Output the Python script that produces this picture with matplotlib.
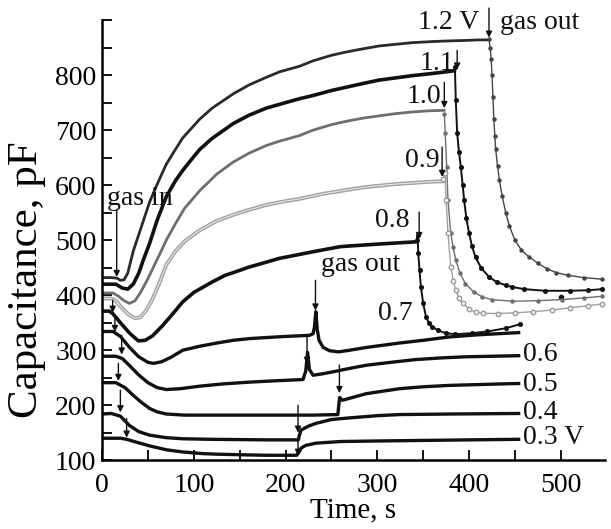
import matplotlib
matplotlib.use("Agg")
import matplotlib.pyplot as plt
from matplotlib.ticker import MultipleLocator

plt.rcParams['font.family'] = ['Liberation Serif', 'DejaVu Serif']

# ---------------- data (time s, capacitance pF) ----------------
t12 = [0, 10, 16, 20, 24, 28, 34, 42, 52, 61, 70, 80, 88, 100, 106.5, 120, 143, 160, 179, 193.5, 215, 230, 250, 266, 285, 302, 320, 338, 360, 375, 395, 411, 421]
c12 = [432, 432, 431, 427, 428, 440, 480, 520, 570, 605, 638, 665, 686, 708, 720, 740, 766, 782, 796, 806, 816, 826, 836, 842, 848, 853, 856, 859, 861, 862, 863, 864, 864]
t12d = [421.7, 423, 424, 425, 426, 427, 428, 429, 431, 433, 436, 440, 444, 450, 457, 465, 475, 485, 495, 508, 525, 545]
c12d = [865, 850, 830, 800, 760, 720, 690, 665, 635, 610, 580, 550, 525, 500, 482, 470, 458, 448, 441, 436, 432, 429]

t11 = [0, 15, 22, 28, 34, 40, 45, 52, 60, 70, 80, 88, 100, 106.5, 120, 143, 160, 179, 200, 215, 230, 250, 266, 285, 302, 320, 338, 360, 375, 384]
c11 = [420, 420, 413, 411, 420, 440, 464, 495, 536, 579, 608, 627, 652, 665, 685, 712, 727, 740, 750, 757, 763, 772, 778, 785, 791, 795, 799, 803, 806, 808]
t11d = [384.5, 385.5, 387, 389, 391, 393, 394.6, 397, 400, 403, 407, 413, 421.7, 430, 440, 447, 460, 483, 510, 530, 545]
c11d = [815, 755, 695, 660, 633, 600, 573, 540, 513, 490, 469, 450, 433, 424, 418, 415, 411, 408, 408, 409, 411]
t11_dot = [500]
c11_dot = [397]

t10 = [0, 12, 18, 24, 30, 36, 42, 50, 58, 65, 70, 80, 90, 106.5, 125, 143, 160, 179, 193.5, 215, 230, 250, 266, 285, 302, 320, 338, 355, 372.8]
c10 = [404, 404, 398, 390, 385, 390, 405, 430, 458, 482, 500, 530, 558, 590, 620, 642, 658, 672, 680, 690, 700, 710, 716, 722, 726, 730, 733, 735, 736]
t10d = [373, 374, 375.6, 377, 380, 382.5, 385.5, 390, 396, 405, 414, 425, 447, 475, 501, 525, 545]
c10d = [730, 695, 633, 573, 513, 488, 464, 440, 421, 406, 397, 392, 389, 390, 392, 395, 398]

t09 = [0, 10, 15, 20, 28, 36, 42, 48, 55, 62, 70, 80, 90, 106.5, 125, 143, 160, 179, 200, 215, 240, 266, 285, 302, 320, 338, 355, 371]
c09 = [394, 394, 390, 380, 366, 358, 360, 372, 393, 420, 455, 480, 498, 518, 535, 546, 555, 564, 571, 575, 584, 591, 596, 599, 602, 604, 606, 607]
t09d = [372, 373.5, 375, 377, 380, 383, 385.5, 389, 393, 400, 407, 415, 432, 450, 470, 490, 510, 530, 545]
c09d = [612, 622, 573, 513, 452, 425, 409, 395, 385, 375, 369, 367, 366.7, 368, 370, 373, 377, 381, 384]

t08 = [0, 8, 12, 20, 30, 39.5, 47, 55, 65, 75, 88, 100, 120, 134, 143, 160, 179, 193.5, 215, 230, 259, 266, 302, 342]
c08 = [371, 371, 366, 350, 331, 317, 318, 326, 343, 362, 388, 405, 424, 436, 441, 451, 460, 467, 474, 479, 488, 489, 493, 497]
t08d = [343, 344, 344.6, 346, 347.5, 350, 353, 356, 360, 366, 374.6, 385, 403, 420, 440, 455]
c08d = [500, 509, 476, 445, 415, 385, 361, 350, 343, 336, 331, 329, 331, 334, 340, 347]

t07 = [0, 12, 20, 30, 40, 50, 56, 65, 75, 88, 106, 125, 143, 160, 179, 200, 226, 230, 231.5, 233, 234.5, 236.5, 241, 248, 258, 270, 288, 324, 350, 378, 410, 454]
c07 = [334, 334, 325, 305, 288, 278, 276, 279, 287, 300, 307, 313, 318, 321, 323, 325, 327, 330, 342, 370, 338, 318, 305, 299, 297, 300, 305, 313, 318, 324, 328, 332]

t06 = [0, 15, 22, 30, 40, 50, 60, 70, 85, 106, 130, 161, 190, 219, 222, 224, 226, 230, 240, 251, 270, 288, 315, 342, 370, 396, 425, 454]
c06 = [289, 289, 285, 272, 255, 241, 232, 228.5, 230, 234.5, 238.5, 242, 244.5, 246.7, 262, 296, 265, 254.5, 257, 260.5, 267, 272.7, 278, 283, 286, 288, 289, 290]

t05 = [0, 15, 25, 34, 43, 52, 60, 70, 90, 120, 150, 200, 230, 257, 258, 259, 262, 275, 288, 324, 350, 378, 420, 454]
c05 = [241, 241, 232, 218, 205, 194, 188, 184, 182, 182, 182, 182, 182, 183, 200, 214, 209, 215, 221, 230, 233.5, 236, 238, 239.5]

t04 = [0, 10, 20, 30, 40, 52, 70, 88, 120, 150, 180, 214, 215, 217, 225, 233, 250, 270, 300, 324, 380, 454]
c04 = [184, 185, 180, 163, 152, 145.5, 141, 139, 138, 137.5, 137, 137, 145, 155, 162, 167, 174, 177, 181, 183, 184, 185]

t03 = [0, 20, 27, 35, 52, 70, 88, 110, 125, 150, 180, 212, 214, 217, 222, 233, 260, 300, 350, 400, 454]
c03 = [140, 140, 138, 134, 126, 119, 115, 112, 111, 110, 109, 109, 113, 122, 127, 131, 134, 135, 136, 137, 138]

# text labels: (text, t, C, ha)
labels = [("1.2 V", 411, 895, "right"), ("gas out", 434, 895, "left"),
          ("1.1", 383.7, 822, "right"), ("1.0", 369.6, 762, "right"),
          ("0.9", 367.4, 645, "right"), ("0.8", 334.8, 536, "right"),
          ("gas out", 239, 455, "left"), ("0.7", 339, 367, "right"),
          ("gas in", 5.4, 576, "left"),
          ("0.6", 459, 292, "left"), ("0.5", 459, 237, "left"),
          ("0.4", 459, 187, "left"), ("0.3 V", 459, 142, "left")]

# arrows: (t, C_tail, C_tip)
arrows = [(421.7, 922, 868), (387, 845, 810), (373, 787, 740), (370.6, 669, 615),
          (345.6, 551, 502), (232.6, 427, 372), (223.4, 324, 275), (258.7, 273, 222),
          (213.6, 200, 150), (213.6, 135, 108),
          (16, 555, 433), (11.6, 391, 368), (14, 361, 333), (21.4, 327, 292),
          (17.8, 276, 244), (20, 227, 187), (26.8, 176, 141)]

# ---------------- figure ----------------
fig = plt.figure(figsize=(6.11, 5.29), dpi=100)
ax = fig.add_axes([0.167, 0.130, 0.823, 0.832])

black = "#111111"
ax.plot(t12, c12, color="#2a2a2a", lw=2.0)
ax.plot(t12d, c12d, color="#444444", lw=1.0, marker="o", ms=2.2)
ax.plot(t11, c11, color=black, lw=2.6)
ax.plot(t11d, c11d, color=black, lw=1.4, marker="o", ms=2.6)
ax.plot(t11_dot, c11_dot, "o", color=black, ms=3)
ax.plot(t10, c10, color="#6e6e6e", lw=2.0)
ax.plot(t10d, c10d, color="#6e6e6e", lw=1.0, marker="o", ms=2.2)
ax.plot(t09, c09, color="#a0a0a0", lw=2.8)
ax.plot(t09, c09, color="#e8e8e8", lw=0.8)
ax.plot(t09d, c09d, color="#a0a0a0", lw=1.0, marker="o", ms=3.2, mfc="white", mec="#999999")
ax.plot(t08, c08, color=black, lw=2.6)
ax.plot(t08d, c08d, color=black, lw=1.4, marker="o", ms=2.6)
for tt, cc in [(t07, c07), (t06, c06), (t05, c05), (t04, c04), (t03, c03)]:
    ax.plot(tt, cc, color=black, lw=2.4)

for txt, tx, cy, ha in labels:
    ax.text(tx, cy, txt, ha=ha, va="center", fontsize=20, color="#111111")

for tx, c0, c1 in arrows:
    ax.annotate("", xy=(tx, c1), xytext=(tx, c0), annotation_clip=False,
                arrowprops=dict(arrowstyle="-|>", lw=1.0, color="#111111",
                                mutation_scale=9, shrinkA=0, shrinkB=0))

ax.set_xlim(0, 548)
ax.set_ylim(100, 900)
ax.xaxis.set_major_locator(MultipleLocator(100))
ax.xaxis.set_minor_locator(MultipleLocator(50))
ax.yaxis.set_major_locator(MultipleLocator(100))
ax.yaxis.set_minor_locator(MultipleLocator(50))
ax.set_yticks([100, 200, 300, 400, 500, 600, 700, 800])
ax.tick_params(which="both", direction="in", width=1.3, length=7, labelsize=20)
ax.tick_params(axis="x", pad=9)
ax.tick_params(axis="y", pad=4)
for s in ["top", "right"]:
    ax.spines[s].set_visible(False)
for s in ["left", "bottom"]:
    ax.spines[s].set_linewidth(1.8)

ax.set_xlabel("Time, s", fontsize=21, labelpad=0)
ax.set_ylabel("Capacitance, pF", fontsize=31)
ax.yaxis.set_label_coords(-0.112, 0.41)

fig.savefig("out.png", dpi=100)
